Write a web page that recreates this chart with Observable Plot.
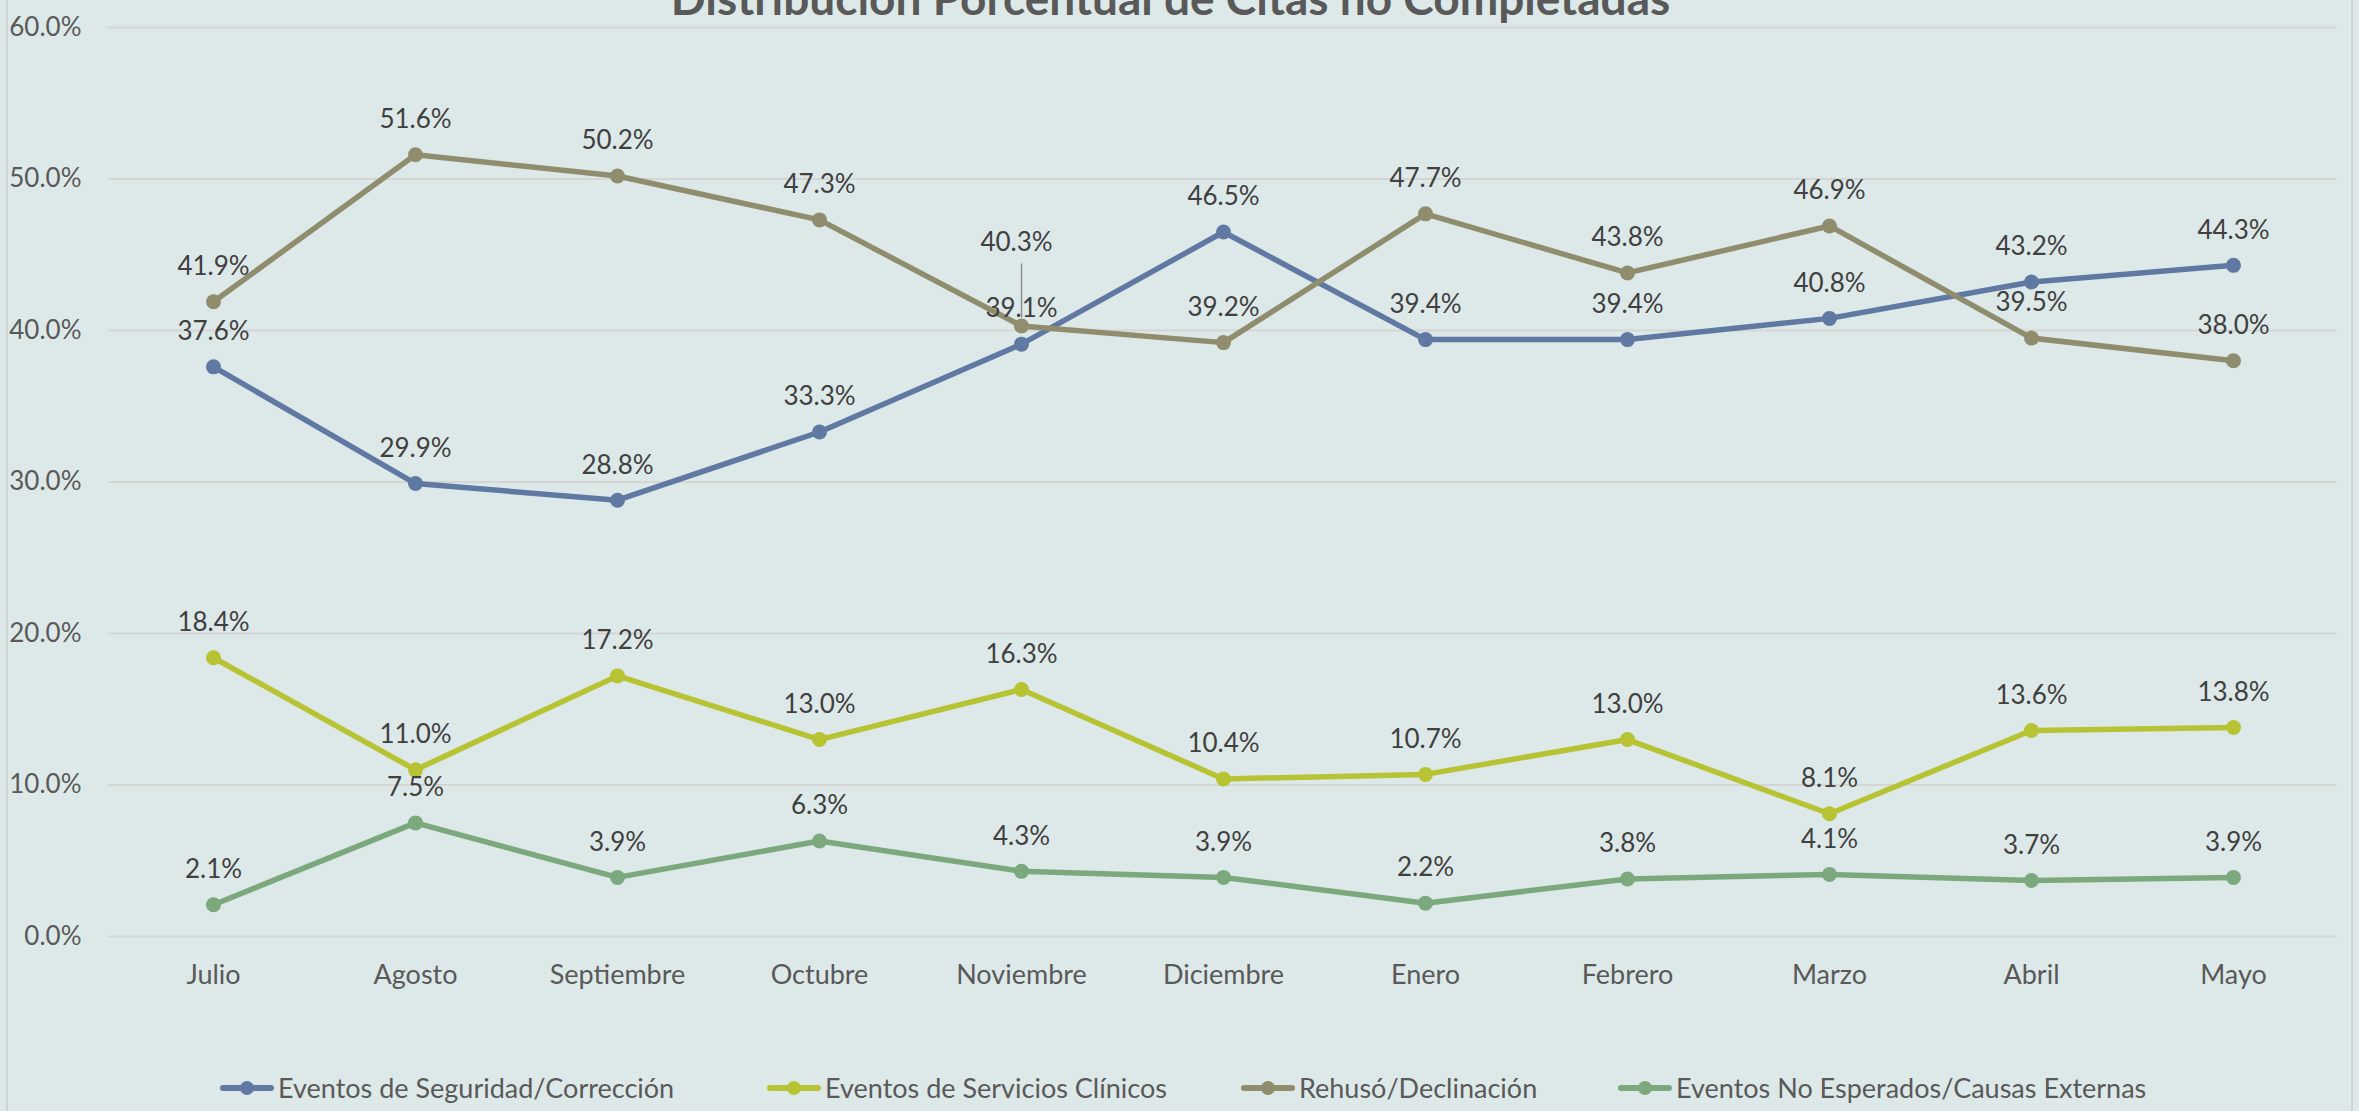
<!DOCTYPE html>
<html>
<head>
<meta charset="utf-8">
<script src="https://cdn.jsdelivr.net/npm/d3@7"></script>
<script src="https://cdn.jsdelivr.net/npm/@observablehq/plot@0.6"></script>
<style>
  html, body { margin: 0; padding: 0; background: #dde9e8; overflow: hidden; }
  #wrap { position: relative; width: 2359px; height: 1111px; }
  #title { position: absolute; left: 0; width: 2341px; top: -25px; text-align: center;
    font-family: Lato, "Open Sans", sans-serif; font-weight: bold; font-size: 46px; line-height: 46px; color: #595959; }
  #chart { position: absolute; left: 0; top: 0; }
  .vborder { position: absolute; top: 0; width: 2px; height: 1111px; background: #cfd5d4; }
  .leg { position: absolute; top: 1071px; display: flex; align-items: center; white-space: nowrap;
    font-family: Lato, "Open Sans", sans-serif; font-size: 27px; color: #595959; }
  .leg svg { margin-right: 4px; }
</style>
</head>
<body>
<div id="wrap">
  <div class="vborder" style="left:6px"></div>
  <div class="vborder" style="left:2351px"></div>
  <div id="chart"></div>
  <div id="title">Distribución Porcentual de Citas no Completadas</div>
  <div id="legend"></div>
</div>
<script>
const months = ["Julio","Agosto","Septiembre","Octubre","Noviembre","Diciembre","Enero","Febrero","Marzo","Abril","Mayo"];
const seriesNames = ["Eventos de Seguridad/Corrección","Eventos de Servicios Clínicos","Rehusó/Declinación","Eventos No Esperados/Causas Externas"];
const seguridad   = [37.6, 29.9, 28.8, 33.3, 39.1, 46.5, 39.4, 39.4, 40.8, 43.2, 44.3];
const servicios   = [18.4, 11.0, 17.2, 13.0, 16.3, 10.4, 10.7, 13.0, 8.1, 13.6, 13.8];
const rehuso      = [41.9, 51.6, 50.2, 47.3, 40.3, 39.2, 47.7, 43.8, 46.9, 39.5, 38.0];
const noEsperados = [2.1, 7.5, 3.9, 6.3, 4.3, 3.9, 2.2, 3.8, 4.1, 3.7, 3.9];
const yTicks = [0, 10, 20, 30, 40, 50, 60];
const colors = ["#6079a3", "#b7c333", "#908d6f", "#7ba87d"];

const valuesBySeries = [seguridad, servicios, rehuso, noEsperados];
const data = [];
valuesBySeries.forEach((vals, si) => vals.forEach((v, mi) => data.push({series: seriesNames[si], month: months[mi], value: v})));

// the one label moved up with a leader line in the original
const isMoved = d => d.series === seriesNames[2] && d.month === "Noviembre";
const fmt = d => d.value.toFixed(1) + "%";

const chart = Plot.plot({
  width: 2359, height: 1040,
  marginLeft: 108, marginRight: 22, marginTop: 27, marginBottom: 104,
  style: {background: "transparent", fontFamily: "Lato, 'Open Sans', sans-serif", fontSize: "26px", color: "#595959", overflow: "visible"},
  x: {type: "point", domain: months, padding: 0.5, label: null},
  y: {domain: [0, 60], label: null},
  color: {domain: seriesNames, range: colors},
  marks: [
    Plot.gridY(yTicks, {stroke: "#d5d5d3", strokeOpacity: 1, strokeWidth: 2}),
    Plot.axisY(yTicks, {tickSize: 0, tickPadding: 27, tickFormat: d => d.toFixed(1) + "%", fill: "#595959", fontSize: 26, label: null}),
    Plot.axisX({tickSize: 0, tickPadding: 28, fill: "#595959", fontSize: 27, label: null}),
    Plot.line(data, {x: "month", y: "value", z: "series", stroke: "series", strokeWidth: 5.5, strokeLinejoin: "round", strokeLinecap: "round"}),
    Plot.dot(data, {x: "month", y: "value", fill: "series", r: 7.5}),
    Plot.ruleX(data.filter(isMoved), {x: "month", y1: "value", y2: "value", insetTop: -8, insetBottom: 62, stroke: "#8c8c8c", strokeWidth: 1.5}),
    Plot.text(data.filter(d => !isMoved(d)), {x: "month", y: "value", text: fmt, dy: -35, fill: "#404040", fontSize: 26}),
    Plot.text(data.filter(isMoved), {x: "month", y: "value", text: fmt, dy: -83, dx: -5, fill: "#404040", fontSize: 26})
  ]
});
document.getElementById("chart").appendChild(chart);

// legend
const legendX = [220, 767, 1241, 1618];
const legend = document.getElementById("legend");
seriesNames.forEach((name, i) => {
  const item = document.createElement("div");
  item.className = "leg";
  item.style.left = legendX[i] + "px";
  item.innerHTML = `<svg width="54" height="32"><line x1="3" x2="51" y1="16" y2="16" stroke="${colors[i]}" stroke-width="6" stroke-linecap="round"/><circle cx="27" cy="16" r="7" fill="${colors[i]}"/></svg><span>${name}</span>`;
  legend.appendChild(item);
});
</script>
</body>
</html>
